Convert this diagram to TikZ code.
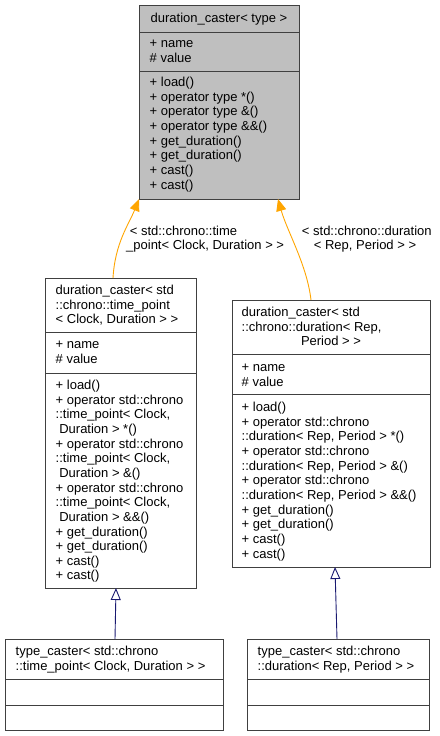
\documentclass[tikz,border=0pt]{standalone}
\usepackage{fontspec}
\setmainfont{Liberation Sans}
\usetikzlibrary{arrows.meta}
\definecolor{boxborder}{HTML}{404040}
\definecolor{boxgray}{HTML}{BFBFBF}
\definecolor{edgeorange}{HTML}{FFA500}
\definecolor{edgeblue}{HTML}{191970}
\newcommand\txtlines[4]{%
  \foreach \lineT [count=\i from 0] in {#4}{%
    \node[txt] (#1\i) at (#2,{#3+\i*14.65}) {\lineT};
  }%
}
\begin{document}
\begin{tikzpicture}[x=1pt,y=-1pt,
  box/.style={draw=boxborder, line width=1pt, inner sep=0pt, outer sep=0pt, rectangle},
  divider/.style={draw=boxborder, line width=1pt},
  txt/.style={anchor=base west, inner sep=0pt, font=\fontsize{13}{14.65}\selectfont},
  txtc/.style={anchor=base, inner sep=0pt, font=\fontsize{13}{14.65}\selectfont},
  inhO/.style={draw=edgeorange, line width=0.9pt, -{Triangle[length=12pt,width=10pt]}},
  inhB/.style={draw=edgeblue, line width=0.9pt, -{Triangle[open,length=12pt,width=10pt]}}]
\useasboundingbox (0,0) rectangle (439,736);

% top box
\node[box, fill=boxgray, minimum width=160pt, minimum height=194pt] (top) at (219,102) {};
\draw[divider] (139,32) -- (299,32);
\draw[divider] (139,71) -- (299,71);
\node[txtc] (th) at (219,22.5) {duration\_caster< type >};
\txtlines{ta}{149.5}{47.5}{{+ name},{\# value}}
\txtlines{tm}{149.5}{86.5}{+ load(),+ operator type *(),+ operator type \&(),+ operator type \&\&(),+ get\_duration(),+ get\_duration(),+ cast(),+ cast()}

% middle left box
\node[box, minimum width=151pt, minimum height=310pt] (midL) at (120.5,433) {};
\draw[divider] (45,332) -- (196,332);
\draw[divider] (45,373) -- (196,373);
\txtlines{lh}{55.5}{294.5}{duration\_caster< std,::chrono::time\_point,{< Clock, Duration > >}}
\txtlines{la}{55.5}{348.5}{{+ name},{\# value}}
\txtlines{lm}{55.5}{389.5}{+ load(),+ operator std::chrono,{::time\_point< Clock,},{\ Duration > *()},+ operator std::chrono,{::time\_point< Clock,},{\ Duration > \&()},+ operator std::chrono,{::time\_point< Clock,},{\ Duration > \&\&()},+ get\_duration(),+ get\_duration(),+ cast(),+ cast()}

% middle right box
\node[box, minimum width=198pt, minimum height=267pt] (midR) at (331,433.5) {};
\draw[divider] (232,354) -- (430,354);
\draw[divider] (232,394) -- (430,394);
\txtlines{rh}{241.5}{316.5}{duration\_caster< std,{::chrono::duration< Rep,}}
\node[txtc] (rh2) at (331,345.8) {Period > >};
\txtlines{ra}{241.5}{371.5}{{+ name},{\# value}}
\txtlines{rm}{241.5}{411.5}{+ load(),+ operator std::chrono,{::duration< Rep, Period > *()},+ operator std::chrono,{::duration< Rep, Period > \&()},+ operator std::chrono,{::duration< Rep, Period > \&\&()},+ get\_duration(),+ get\_duration(),+ cast(),+ cast()}

% bottom left box
\node[box, minimum width=218pt, minimum height=91pt] (botL) at (114,684.5) {};
\draw[divider] (5,679) -- (223,679);
\draw[divider] (5,705) -- (223,705);
\txtlines{blh}{15.5}{655.5}{type\_caster< std::chrono,{::time\_point< Clock, Duration > >}}

% bottom right box
\node[box, minimum width=182pt, minimum height=91pt] (botR) at (338,684.5) {};
\draw[divider] (247,679) -- (429,679);
\draw[divider] (247,705) -- (429,705);
\txtlines{brh}{257.5}{655.5}{type\_caster< std::chrono,{::duration< Rep, Period > >}}

% edges
\draw[inhO] ([xshift=-7.5pt]midL.north) .. controls +(2,-35) and +(-10,25) .. (top.south west);
\draw[inhO] ([xshift=-20pt]midR.north) .. controls +(-4,-35) and +(9,32) .. ([xshift=59pt]top.south);
\draw[inhB] ([xshift=1pt]botL.north) -- ([xshift=-4.5pt]midL.south);
\draw[inhB] ([xshift=-1pt]botR.north) -- ([xshift=4pt]midR.south);

% edge labels
\node[txt] (ll1) at (126,235.5) {\ < std::chrono::time};
\node[txt] (ll2) at (126,249) {\_point< Clock, Duration > >};
\node[txtc] (rl1) at (365,235.5) {\ < std::chrono::duration};
\node[txtc] (rl2) at (365,249) {< Rep, Period > >};
\end{tikzpicture}
\end{document}
